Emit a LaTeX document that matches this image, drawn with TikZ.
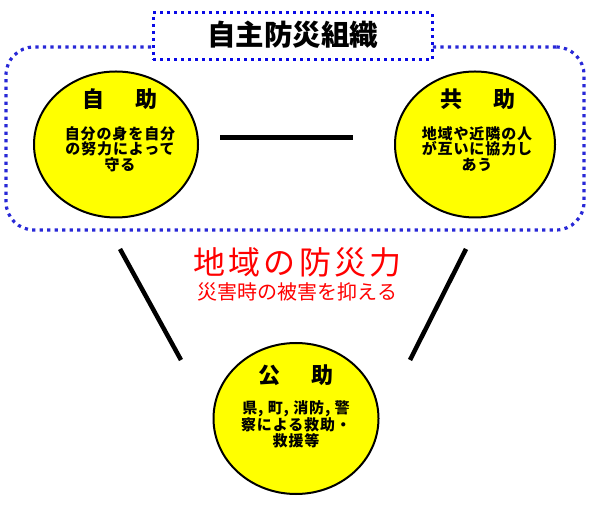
\documentclass[tikz,border=0pt]{standalone}
\usepackage{fontspec}
\newfontfamily\jp{Noto Sans CJK JP}
\newfontfamily\jpwide[LetterSpace=10]{Noto Sans CJK JP}
\newfontfamily\jpbody[LetterSpace=6]{Noto Sans CJK JP}
\usetikzlibrary{shapes.geometric}
\definecolor{framecol}{RGB}{40,40,215}
\definecolor{titlecol}{RGB}{10,10,230}
\definecolor{ballcol}{RGB}{255,255,0}

\tikzset{
  ball/.style={ellipse, draw=black, line width=2pt, fill=ballcol, inner sep=0pt},
  head/.style={font=\jp\bfseries\fontsize{22}{24}\selectfont, inner sep=0pt},
  body/.style={font=\jpbody\bfseries\fontsize{15}{15.5}\selectfont, align=center, inner sep=0pt},
  bar/.style={line width=4.5pt, black},
}

\begin{document}
\begin{tikzpicture}[x=1pt, y=1pt]
    \useasboundingbox (0,0) rectangle (593,508);

    % outer frame and title
    \node[draw=framecol, line width=3.2pt, dash pattern=on 3.2pt off 4.3pt, rounded corners=28pt,
          minimum width=578pt, minimum height=183pt, inner sep=0pt] (soshiki) at (295,369.5) {};
    \node[draw=titlecol, fill=white, line width=3pt, dash pattern=on 3pt off 4pt,
          minimum width=279pt, minimum height=47pt, inner sep=0pt] (titlebox) at (292.5,471.5) {};
    \node[font=\jp\bfseries\fontsize{28.5}{30}\selectfont, inner sep=0pt] (title) at (292.5,473) {自主防災組織};

    % the three circles
    \node[ball, minimum width=164pt, minimum height=146pt] (jijo) at (116,363.5) {};
    \node[ball, minimum width=160pt, minimum height=146pt] (kyojo) at (475,363.5) {};
    \node[ball, minimum width=165pt, minimum height=151pt] (kojo) at (296,89.5) {};

    \node[head] (jijo-h) at (120,409) {自\hspace{1.45em}助};
    \node[body] (jijo-b) at (120,359) {自分の身を自分\\の努力によって\\守る};
    \node[head] (kyojo-h) at (478,409) {共\hspace{1.45em}助};
    \node[body] (kyojo-b) at (477,359) {地域や近隣の人\\が互いに協力し\\あう};
    \node[head] (kojo-h) at (296,133) {公\hspace{1.45em}助};
    \node[body] (kojo-b) at (296,84) {県, 町, 消防, 警\\察による救助・\\救援等};

    % middle text
    \node[font=\jpwide\fontsize{32}{34}\selectfont, text=red, inner sep=0pt] (bousai) at (297.5,245.5) {地域の防災力};
    \node[font=\jp\fontsize{20}{22}\selectfont, text=red, inner sep=0pt] (higai) at (297.5,216) {災害時の被害を抑える};

    % links
    \coordinate (a1) at ([shift={(21,7)}]jijo.east);
    \coordinate (a2) at ([shift={(-41,7)}]kyojo.west);
    \coordinate (b1) at (120,259);
    \coordinate (b2) at (181,148);
    \coordinate (c1) at (466,259);
    \coordinate (c2) at (410,148);
    \draw[bar] (a1) -- (a2);
    \draw[bar] (b1) -- (b2);
    \draw[bar] (c1) -- (c2);
\end{tikzpicture}
\end{document}
